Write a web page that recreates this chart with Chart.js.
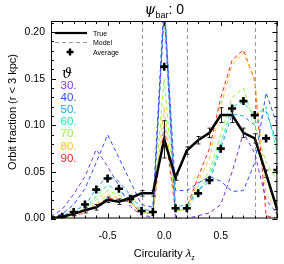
<!DOCTYPE html>
<html><head><meta charset="utf-8">
<script src="https://cdn.jsdelivr.net/npm/chart.js@4"></script>
<style>html,body{margin:0;padding:0;background:#fff;overflow:hidden}</style>
</head><body>
<canvas id="c" width="284" height="264"></canvas>
<script>
// ---- data ----
const lambdaBins = [-1.0,-0.9,-0.8,-0.7,-0.6,-0.5,-0.4,-0.3,-0.2,-0.1,0.0,0.1,0.2,0.3,0.4,0.5,0.6,0.7,0.8,0.9,1.0];
const trueFrac = [0.000,0.002,0.005,0.009,0.012,0.020,0.018,0.022,0.027,0.027,0.085,0.044,0.073,0.084,0.092,0.111,0.111,0.092,0.086,0.048,0.009];
const trueErr  = [0.001,0.001,0.002,0.003,0.003,0.003,0.003,0.003,0.003,0.003,0.020,0.003,0.004,0.004,0.005,0.008,0.008,0.005,0.005,0.004,0.003];
const avgFrac  = [0.001,0.002,0.007,0.015,0.031,0.043,0.032,0.021,0.008,0.007,0.163,0.011,0.011,0.027,0.041,0.075,0.118,0.126,0.111,0.086,0.052];
const model30 = [0.002,0.010,0.026,0.045,0.074,0.056,0.035,0.013,0.003,0.002,0.225,0.000,0.000,0.003,0.006,0.015,0.050,0.092,0.070,0.020,0.005];
const model40 = [0.001,0.005,0.015,0.032,0.060,0.090,0.065,0.040,0.015,0.012,0.230,0.030,0.030,0.038,0.045,0.040,0.029,0.030,0.060,0.135,0.100];
const model50 = [0.001,0.003,0.008,0.014,0.032,0.046,0.040,0.025,0.010,0.008,0.240,0.012,0.015,0.030,0.040,0.075,0.112,0.110,0.100,0.115,0.080];
const model60 = [0.000,0.002,0.005,0.010,0.024,0.036,0.030,0.020,0.008,0.007,0.220,0.010,0.010,0.030,0.045,0.080,0.120,0.125,0.110,0.120,0.070];
const model70 = [0.000,0.001,0.004,0.008,0.020,0.030,0.025,0.018,0.007,0.006,0.150,0.008,0.010,0.035,0.050,0.090,0.130,0.140,0.100,0.060,0.040];
const model80 = [0.000,0.001,0.003,0.007,0.016,0.026,0.022,0.017,0.006,0.006,0.120,0.008,0.010,0.040,0.065,0.120,0.165,0.178,0.150,0.025,0.010];
const model90 = [0.000,0.001,0.003,0.006,0.014,0.022,0.020,0.017,0.006,0.006,0.100,0.008,0.012,0.045,0.075,0.130,0.170,0.181,0.148,0.003,0.000];
const thetaLabels = ['30.','40.','50.','60.','70.','80.','90.'];
const thetaColors = ['#7a35e0','#2f4dff','#1fa2ff','#12eea0','#8cf53a','#ffc21f','#ff2424'];
const xTickValues = [-0.5,0.0,0.5];
const yTickValues = [0.00,0.05,0.10,0.15,0.20];
const guideLines = [-0.2,0.2,0.8];

const FONT = '"Liberation Sans", Arial, Helvetica, sans-serif';
const modelSeries = [model30,model40,model50,model60,model70,model80,model90];
const pts = arr => lambdaBins.map((x,i)=>({x:x,y:arr[i]}));

const datasets = modelSeries.map((arr,i)=>({
  label:'Model '+thetaLabels[i], data:pts(arr), borderColor:thetaColors[i],
  borderWidth:1, borderDash:[4,3], pointRadius:0, fill:false, tension:0, order:3
}));
datasets.push({label:'True', data:pts(trueFrac), borderColor:'#000', borderWidth:2.5,
  pointRadius:0, fill:false, tension:0, order:2});
datasets.push({label:'Average', data:pts(avgFrac), showLine:false, pointStyle:'cross',
  pointRadius:4, pointBorderWidth:2.6, borderColor:'#000', backgroundColor:'#000', order:1});

const deco = {
  id:'deco',
  beforeDatasetsDraw(chart){
    const {ctx, chartArea:a, scales:{x,y}} = chart;
    ctx.save();
    ctx.strokeStyle='#9a9a9a'; ctx.lineWidth=1; ctx.setLineDash([4,3]);
    guideLines.forEach(v=>{const px=Math.round(x.getPixelForValue(v))+0.5;
      ctx.beginPath(); ctx.moveTo(px,a.top); ctx.lineTo(px,a.bottom); ctx.stroke();});
    ctx.restore();
  },
  afterDatasetsDraw(chart){
    const {ctx, chartArea:a, scales:{x,y}} = chart;
    ctx.save();
    ctx.beginPath(); ctx.rect(a.left,a.top,a.right-a.left,a.bottom-a.top); ctx.clip();
    // error bars of True
    ctx.strokeStyle='#222'; ctx.lineWidth=1;
    lambdaBins.forEach((v,i)=>{
      const px=Math.round(x.getPixelForValue(v))+0.5;
      const y1=y.getPixelForValue(trueFrac[i]+trueErr[i]), y2=y.getPixelForValue(trueFrac[i]-trueErr[i]);
      ctx.beginPath(); ctx.moveTo(px,y1); ctx.lineTo(px,y2);
      ctx.moveTo(px-2,y1); ctx.lineTo(px+2,y1); ctx.moveTo(px-2,y2); ctx.lineTo(px+2,y2); ctx.stroke();
    });
    ctx.restore();
    // frame and inside ticks
    ctx.save();
    ctx.strokeStyle='#000'; ctx.lineWidth=1;
    ctx.strokeRect(a.left+0.5,a.top+0.5,a.right-a.left-1,a.bottom-a.top-1);
    ctx.beginPath();
    for(let k=-10;k<=10;k++){
      const v=k/10, px=Math.round(x.getPixelForValue(v))+0.5, L=(k%5===0)?5:3;
      ctx.moveTo(px,a.bottom); ctx.lineTo(px,a.bottom-L);
      ctx.moveTo(px,a.top); ctx.lineTo(px,a.top+L);
    }
    for(let k=0;k<=21;k++){
      const v=k/100, py=Math.round(y.getPixelForValue(v))+0.5, L=(k%5===0)?5:3;
      ctx.moveTo(a.left,py); ctx.lineTo(a.left+L,py);
      ctx.moveTo(a.right,py); ctx.lineTo(a.right-L,py);
    }
    ctx.stroke();
    ctx.restore();
  },
  afterDraw(chart){
    const {ctx, chartArea:a} = chart;
    ctx.save();
    ctx.fillStyle='#000'; ctx.textBaseline='alphabetic';
    // title psi_bar: 0
    const cx=(a.left+a.right)/2;
    ctx.font='italic 14px "DejaVu Serif", serif'; const w1=ctx.measureText('ψ').width;
    ctx.font='9px '+FONT; const w2=ctx.measureText('bar').width;
    ctx.font='14px '+FONT; const w3=ctx.measureText(': 0').width;
    let sx=cx-(w1+w2+w3)/2;
    ctx.textAlign='left';
    ctx.font='italic 14px "DejaVu Serif", serif'; ctx.fillText('ψ',sx,14); sx+=w1;
    ctx.font='9px '+FONT; ctx.fillText('bar',sx,18); sx+=w2;
    ctx.font='14px '+FONT; ctx.fillText(': 0',sx,14);
    // x-axis title
    ctx.font='11px '+FONT; const t1='Circularity ', wa=ctx.measureText(t1).width;
    ctx.font='italic 11px '+FONT; const wb=ctx.measureText('λ').width;
    ctx.font='7px '+FONT; const wc=ctx.measureText('z').width;
    sx=cx-(wa+wb+wc)/2;
    ctx.font='11px '+FONT; ctx.fillText(t1,sx,257); sx+=wa;
    ctx.font='italic 11px '+FONT; ctx.fillText('λ',sx,257); sx+=wb;
    ctx.font='7px '+FONT; ctx.fillText('z',sx,260);
    // y-axis title
    ctx.save(); ctx.translate(16,112); ctx.rotate(-Math.PI/2);
    ctx.font='11px '+FONT; ctx.textAlign='center'; ctx.fillText('Orbit fraction (r < 3 kpc)',0,0);
    ctx.restore();
    // legend
    ctx.textAlign='left';
    ctx.strokeStyle='#000'; ctx.lineWidth=2.2;
    ctx.beginPath(); ctx.moveTo(55,33); ctx.lineTo(87,33); ctx.stroke();
    ctx.strokeStyle='#9a9a9a'; ctx.lineWidth=1; ctx.setLineDash([4,3]);
    ctx.beginPath(); ctx.moveTo(55,42.5); ctx.lineTo(87,42.5); ctx.stroke(); ctx.setLineDash([]);
    ctx.strokeStyle='#000'; ctx.lineWidth=2.4;
    ctx.beginPath(); ctx.moveTo(66.5,52); ctx.lineTo(73.5,52); ctx.moveTo(70,48.5); ctx.lineTo(70,55.5); ctx.stroke();
    ctx.font='7px '+FONT;
    ctx.fillText('True',93,35.5); ctx.fillText('Model',93,45); ctx.fillText('Average',93,54.5);
    ctx.font='italic 14px "DejaVu Serif", serif'; ctx.fillText('ϑ',62,78);
    ctx.font='11.5px '+FONT;
    thetaLabels.forEach((t,i)=>{ctx.fillStyle=thetaColors[i]; ctx.fillText(t,60.5,89+12.1*i);});
    ctx.restore();
  }
};

new Chart(document.getElementById('c'),{
  type:'line',
  data:{datasets:datasets},
  plugins:[deco],
  options:{
    responsive:false, animation:false, devicePixelRatio:1,
    layout:{padding:{top:21,right:6,left:0,bottom:0}},
    plugins:{legend:{display:false}, tooltip:{enabled:false}, title:{display:false}},
    elements:{line:{borderCapStyle:'butt'}},
    scales:{
      x:{type:'linear', min:-1, max:1,
        grid:{display:false, drawTicks:false}, border:{display:false},
        afterBuildTicks:s=>{s.ticks=xTickValues.map(v=>({value:v}));},
        afterFit:s=>{s.height=45.5;},
        ticks:{color:'#000', font:{family:FONT,size:10.5}, padding:11, maxRotation:0, autoSkip:false,
          callback:v=>Number(v).toFixed(1)}},
      y:{type:'linear', min:0, max:0.212,
        grid:{display:false, drawTicks:false}, border:{display:false},
        afterBuildTicks:s=>{s.ticks=yTickValues.map(v=>({value:v}));},
        afterFit:s=>{s.width=51;},
        ticks:{color:'#000', font:{family:FONT,size:10.5}, padding:6, autoSkip:false,
          callback:v=>Number(v).toFixed(2)}}
    }
  }
});
</script>
</body></html>
